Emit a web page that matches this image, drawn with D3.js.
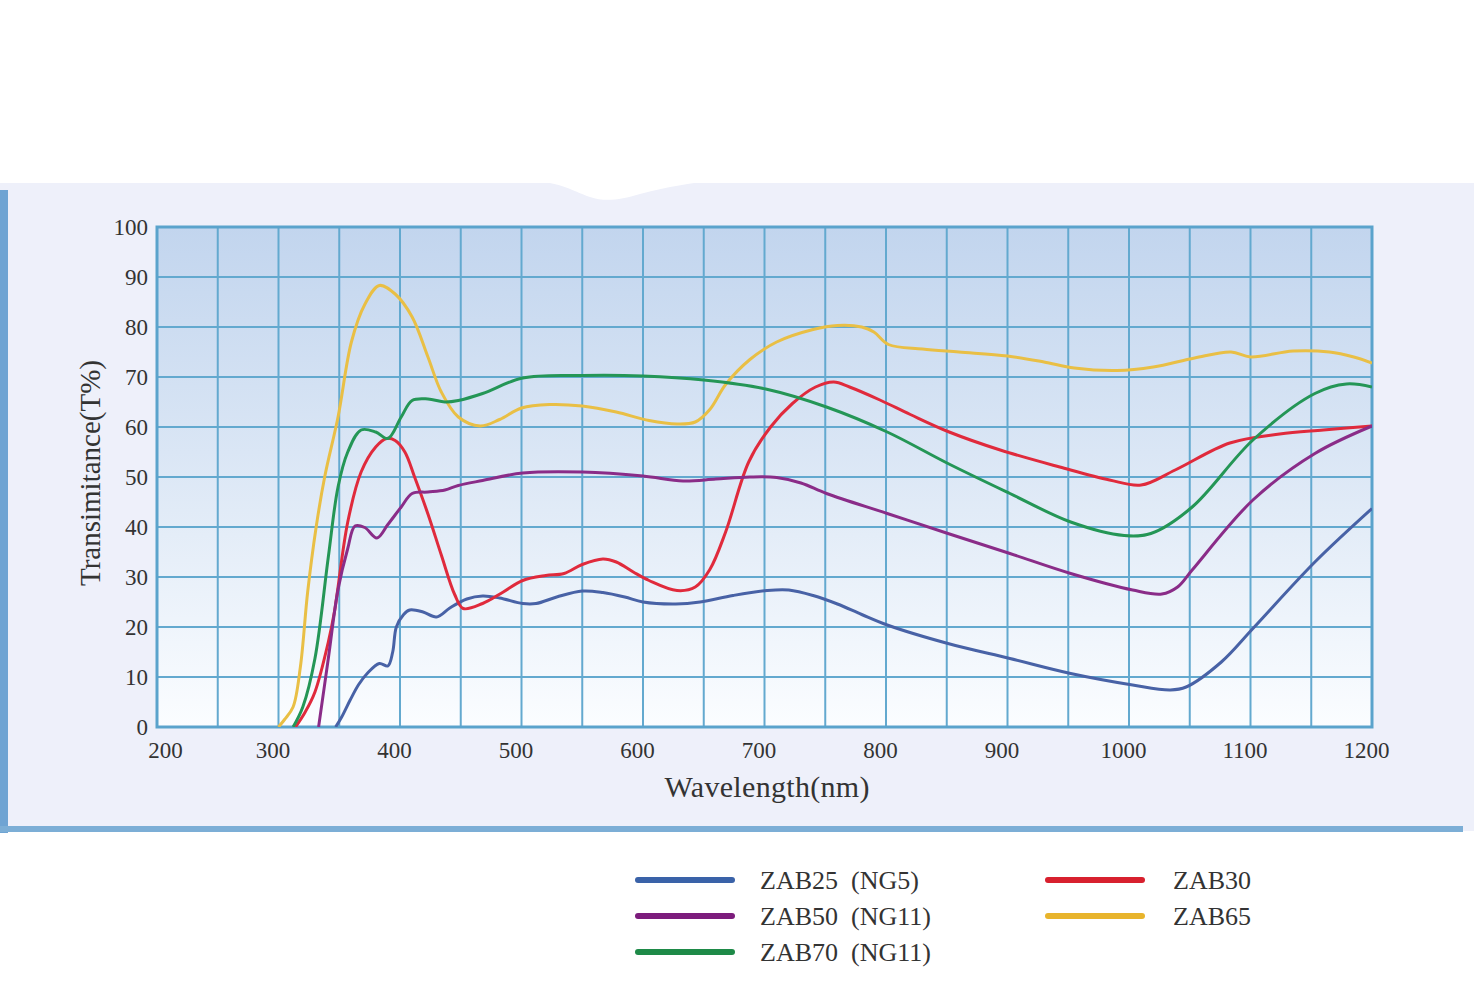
<!DOCTYPE html>
<html>
<head>
<meta charset="utf-8">
<script src="https://cdn.jsdelivr.net/npm/d3@7"></script>
<style>
  body { margin: 0; background: #fff; }
  svg { display: block; }
  text { font-family: "Liberation Serif", "DejaVu Serif", serif; fill: #333; }
</style>
</head>
<body>
<script>
// wavelength (nm) / transmittance (%)

let zab25 = [[347,0],[352,2],[359,5.4],[366,8.5],[373,10.7],[383,12.7],[390,12.2],[394,15],[397,20],[403,22.5],[408,23.4],[419,23],[430,22],[441,23.8],[455,25.6],[468,26.2],[482,25.8],[501,24.7],[512,24.7],[529,26],[550,27.2],[567,26.9],[585,26],[600,25],[627,24.6],[647,25],[674,26.3],[702,27.3],[720,27.4],[740,26.3],[760,24.6],[780,22.5],[801,20.4],[851,16.7],[902,13.7],[952,10.7],[1003,8.4],[1034,7.4],[1047,8],[1076,13],[1102,19.7],[1153,33],[1200,43.7]];

let zab30 = [[314,0],[322,3],[330,7],[341,17],[346,23],[357,41],[368,51],[380,56],[389,57.7],[396,57.3],[404,55],[412,50],[423,42.6],[434,34.4],[445,26.5],[452,23.7],[468,24.7],[485,27],[501,29.3],[520,30.3],[535,30.7],[550,32.5],[567,33.6],[578,33],[592,31],[605,29.3],[628,27.3],[643,28],[655,31.5],[668,39],[687,53],[705,60],[723,64.7],[742,68],[757,69],[770,68],[795,65.4],[820,62.5],[852,59],[894,55.4],[943,52],[984,49.4],[1010,48.4],[1038,51.4],[1083,56.8],[1124,58.6],[1160,59.4],[1200,60.2]];

let zab50 = [[333,0],[341,13.7],[349,27.5],[357,35.7],[363,40.2],[371,39.9],[381,37.8],[390,40.5],[401,44],[410,46.7],[423,47],[437,47.4],[448,48.3],[468,49.3],[501,50.8],[550,51],[600,50.2],[633,49.2],[660,49.6],[688,50],[710,49.9],[730,48.8],[751,46.7],[801,42.7],[851,38.7],[902,34.7],[952,30.7],[1003,27.4],[1027,26.6],[1040,28],[1052,31.4],[1102,45.4],[1153,54.7],[1200,60.2]];

let zab65 = [[300,0],[305,1.5],[312,4],[318,12],[324,27],[331,40],[338,50],[349,62],[360,77],[371,84.5],[383,88.3],[396,86.6],[410,82],[423,74],[434,67],[448,62],[466,60.2],[482,61.5],[500,63.8],[523,64.5],[550,64.2],[578,63],[605,61.3],[628,60.6],[643,61],[655,63.5],[668,68.5],[688,73.5],[710,77],[740,79.5],[760,80.3],[780,80],[790,79],[802,76.5],[830,75.6],[860,75],[900,74.2],[930,73],[955,71.8],[990,71.3],[1020,72],[1054,73.8],[1084,75],[1100,74],[1135,75.2],[1165,75],[1185,74],[1200,72.8]];

let zab70 = [[312,0],[320,4],[330,13.7],[341,34],[349,48],[357,55],[368,59.4],[380,59],[390,57.7],[401,62],[410,65.3],[423,65.6],[437,65],[448,65.3],[468,66.7],[501,69.8],[550,70.3],[600,70.2],[650,69.4],[701,67.6],[751,64],[801,59],[851,52.7],[902,46.7],[952,41],[996,38.3],[1018,38.7],[1052,44],[1102,57.4],[1153,66.7],[1179,68.6],[1200,68]];

let seriesNames = ["ZAB25  (NG5)", "ZAB30", "ZAB50  (NG11)", "ZAB65", "ZAB70  (NG11)"];
let seriesData = [zab25, zab30, zab50, zab65, zab70];
let lineColors = ["#4862a6", "#e02a3c", "#8a2c88", "#e9bf45", "#249656"];
let keyColors = ["#3a62a8", "#d8202e", "#7c1c7c", "#e8b42c", "#1e8a48"];

let xTicks = [200, 300, 400, 500, 600, 700, 800, 900, 1000, 1100, 1200];
let yTicks = [0, 10, 20, 30, 40, 50, 60, 70, 80, 90, 100];

let svg = d3.select("body")
  .append("svg")
    .attr("width", 1479)
    .attr("height", 1000);

// PANEL
svg.append("rect")
  .attr("x", 0).attr("y", 183)
  .attr("width", 1474).attr("height", 648)
  .attr("fill", "#eef0fa");

// white dent on the top edge
svg.append("path")
  .attr("d", "M520,180 C560,181 570,190 590,197 C605,202 620,200 640,194 C670,186 690,184 712,180 Z")
  .attr("fill", "#fff");

svg.append("rect")
  .attr("x", 0).attr("y", 190)
  .attr("width", 8).attr("height", 643)
  .attr("fill", "#6fa4d3");
svg.append("rect")
  .attr("x", 0).attr("y", 826)
  .attr("width", 1463).attr("height", 6)
  .attr("fill", "#7caed6");

// PLOT
let pLeft = 157, pRight = 1372, pTop = 227, pBottom = 727;

let x = d3.scaleLinear().domain([200, 1200]).range([pLeft, pRight]);
let y = d3.scaleLinear().domain([0, 100]).range([pBottom, pTop]);

let defs = svg.append("defs");
let grad = defs.append("linearGradient")
  .attr("id", "bg").attr("x1", 0).attr("y1", 0).attr("x2", 0).attr("y2", 1);
grad.append("stop").attr("offset", "0%").attr("stop-color", "#c2d5ee");
grad.append("stop").attr("offset", "45%").attr("stop-color", "#dae6f5");
grad.append("stop").attr("offset", "100%").attr("stop-color", "#fbfdff");

defs.append("clipPath").attr("id", "clip")
  .append("rect")
    .attr("x", pLeft).attr("y", pTop - 2)
    .attr("width", pRight - pLeft).attr("height", pBottom - pTop + 2);

svg.append("rect")
  .attr("x", pLeft).attr("y", pTop)
  .attr("width", pRight - pLeft).attr("height", pBottom - pTop)
  .attr("fill", "url(#bg)");

let grid = svg.append("g")
  .attr("stroke", "#63a9cf")
  .attr("stroke-width", 2);

grid.selectAll(".vx")
  .data(x.ticks(20))
  .enter().append("line")
    .attr("x1", d => x(d)).attr("x2", d => x(d))
    .attr("y1", pTop).attr("y2", pBottom);

grid.selectAll(".hy")
  .data(y.ticks(10))
  .enter().append("line")
    .attr("x1", pLeft).attr("x2", pRight)
    .attr("y1", d => y(d)).attr("y2", d => y(d));

svg.append("rect")
  .attr("x", pLeft).attr("y", pTop)
  .attr("width", pRight - pLeft).attr("height", pBottom - pTop)
  .attr("fill", "none")
  .attr("stroke", "#5aa3cc")
  .attr("stroke-width", 3);

// AXES
let xAxis = svg.append("g")
  .attr("transform", "translate(0," + pBottom + ")")
  .call(d3.axisBottom(x).tickValues(xTicks).tickFormat(d3.format("d")).tickSize(0).tickPadding(15));
xAxis.select(".domain").remove();
xAxis.selectAll("text")
  .attr("dx", (d, i) => i ? -6 : 8)
  .style("font-size", "23px")
  .style("font-family", "Liberation Serif, serif")
  .attr("fill", "#2e2e2e");

let yAxis = svg.append("g")
  .attr("transform", "translate(" + (pLeft - 9) + ",0)")
  .call(d3.axisLeft(y).tickValues(yTicks).tickFormat(d3.format("d")).tickSize(0).tickPadding(0));
yAxis.select(".domain").remove();
yAxis.selectAll("text")
  .style("font-size", "23px")
  .style("font-family", "Liberation Serif, serif")
  .attr("fill", "#2e2e2e");

svg.append("text")
  .attr("x", 767).attr("y", 797)
  .attr("text-anchor", "middle")
  .attr("textLength", 205)
  .style("font-size", "30px")
  .attr("fill", "#2a2a2a")
  .text("Wavelength(nm)");

svg.append("text")
  .attr("transform", "translate(100,473) rotate(-90)")
  .attr("text-anchor", "middle")
  .style("font-size", "29px")
  .attr("fill", "#2a2a2a")
  .text("Transimitance(T%)");

// CURVES
let line = d3.line()
  .x(d => x(d[0]))
  .y(d => y(d[1]))
  .curve(d3.curveCatmullRom.alpha(0.5));

svg.append("g")
  .attr("clip-path", "url(#clip)")
  .selectAll("path")
  .data(seriesData)
  .enter().append("path")
    .attr("d", d => line(d))
    .attr("fill", "none")
    .attr("stroke", (d, i) => lineColors[i])
    .attr("stroke-width", 3);

// LEGEND
let keyPos = [[638, 880], [1048, 880], [638, 916], [1048, 916], [638, 952]];

let key = svg.append("g");
key.selectAll("line")
  .data(seriesNames)
  .enter().append("line")
    .attr("x1", (d, i) => keyPos[i][0]).attr("x2", (d, i) => keyPos[i][0] + 94)
    .attr("y1", (d, i) => keyPos[i][1]).attr("y2", (d, i) => keyPos[i][1])
    .attr("stroke", (d, i) => keyColors[i])
    .attr("stroke-width", 6)
    .attr("stroke-linecap", "round");

key.selectAll("text")
  .data(seriesNames)
  .enter().append("text")
    .attr("x", (d, i) => keyPos[i][0] + 122 + (i % 2 ? 3 : 0))
    .attr("y", (d, i) => keyPos[i][1] + 9)
    .style("font-size", "26px")
    .style("white-space", "pre")
    .attr("fill", "#333")
    .text(d => d);
</script>
</body>
</html>
